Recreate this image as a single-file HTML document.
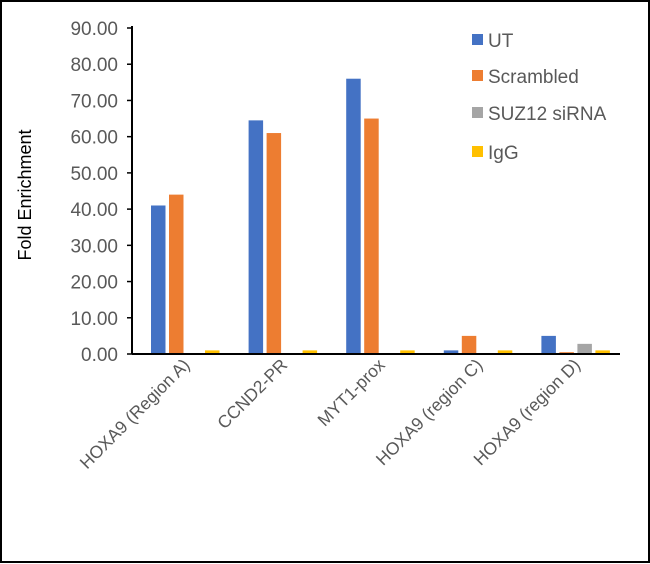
<!DOCTYPE html>
<html><head><meta charset="utf-8"><style>
html,body{margin:0;padding:0;background:#fff;}
svg{display:block;font-family:"Liberation Sans",Arial,sans-serif;}
</style></head><body>
<svg id="c" width="650" height="564" xmlns="http://www.w3.org/2000/svg">
<rect x="1" y="1" width="648" height="561" fill="#fff" stroke="#000" stroke-width="2"/>
<text x="31" y="195" transform="rotate(-90 31 195)" text-anchor="middle" font-size="18" fill="#000">Fold Enrichment</text>
<g id="plot"></g>
</svg>
<script>
const categories=["HOXA9 (Region A)","CCND2-PR","MYT1-prox","HOXA9 (region C)","HOXA9 (region D)"];
const seriesNames=["UT","Scrambled","SUZ12 siRNA","IgG"];
const utValues=[41,64.5,76,1,5];
const scrambledValues=[44,61,65,5,0.5];
const suz12Values=[0,0,0,0,2.8];
const iggValues=[1,1,1,1,1];
const yTicks=[0,10,20,30,40,50,60,70,80,90];
const colors=["#4472C4","#ED7D31","#A5A5A5","#FFC000"];
const NS="http://www.w3.org/2000/svg";
const g=document.getElementById('plot');
const x0=132,x1=620,y0=354,yTop=28,yMax=90;
const yS=v=>y0-(v/yMax)*(y0-yTop);
const gw=(x1-x0)/categories.length;
const xG=i=>x0+gw*i;
function mk(t,a){const e=document.createElementNS(NS,t);for(const k in a)e.setAttribute(k,a[k]);g.appendChild(e);return e;}
yTicks.forEach(v=>{
 const l=mk('line',{x1:x0-5,x2:x0,y1:yS(v),y2:yS(v),stroke:'#000','stroke-width':1.5});
 
 
 const t=mk('text',{x:x0-14,y:yS(v)+7,'text-anchor':'end','font-size':19,fill:'#595959'});
 t.textContent=v.toFixed(2);
 
 
});
const all=[utValues,scrambledValues,suz12Values,iggValues];
const bw=14.5,step=18,off=19;
all.forEach((arr,s)=>{arr.forEach((v,i)=>{
 const bx=xG(i)+off+s*step;
 const r=mk('rect',{x:bx,y:yS(v),width:bw,height:y0-yS(v),fill:colors[s]});
 
 
});});
const ax=mk('line',{x1:x0,x2:x0,y1:yTop-2,y2:y0,stroke:'#000','stroke-width':2});


const bx=mk('line',{x1:x0,x2:x1,y1:y0,y2:y0,stroke:'#000','stroke-width':2});


categories.forEach((c,i)=>{
 const cx=xG(i)+gw/2+10,cy=366;
 const t=mk('text',{x:cx,y:cy,'text-anchor':'end','font-size':17.5,fill:'#595959',transform:`rotate(-45 ${cx} ${cy})`});
 t.textContent=c;
 
 
});
const legY=[40,76,113,152];
seriesNames.forEach((n,s)=>{
 const r=mk('rect',{x:472,y:legY[s]-6,width:11,height:11,fill:colors[s]});
 
 
 const t=mk('text',{x:488,y:legY[s]+7,'font-size':19,fill:'#595959'});
 t.textContent=n;
 
 
});
</script>
</body></html>
